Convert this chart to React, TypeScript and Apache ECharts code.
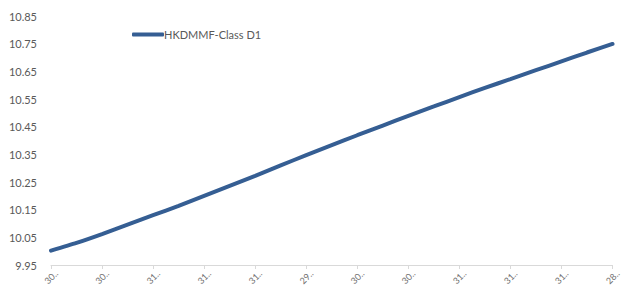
import React, { useEffect, useRef } from "react";
import * as echarts from "echarts";

const categories = [
  "30-Apr-23", "31-May-23", "30-Jun-23", "31-Jul-23", "31-Aug-23", "30-Sep-23",
  "31-Oct-23", "30-Nov-23", "31-Dec-23", "31-Jan-24", "29-Feb-24", "31-Mar-24",
  "30-Apr-24", "31-May-24", "30-Jun-24", "31-Jul-24", "31-Aug-24", "30-Sep-24",
  "31-Oct-24", "30-Nov-24", "31-Dec-24", "31-Jan-25", "28-Feb-25",
];
const seriesName = "HKDMMF-Class D1";
const values = [
  10.002, 10.03, 10.062, 10.096, 10.13, 10.164, 10.2, 10.236, 10.272, 10.31,
  10.347, 10.383, 10.419, 10.454, 10.489, 10.523, 10.557, 10.59, 10.622, 10.654,
  10.686, 10.718, 10.749,
];
const yMin = 9.95;
const yMax = 10.85;
const yInterval = 0.1;

export default function App() {
  const ref = useRef<HTMLDivElement>(null);
  useEffect(() => {
    const chart = echarts.init(ref.current!, undefined, { renderer: "svg" });
    const font = "Lato, 'Open Sans', sans-serif";
    chart.setOption({
      animation: false,
      backgroundColor: "#ffffff",
      textStyle: { fontFamily: font },
      legend: {
        left: 127,
        top: 24,
        icon: "roundRect",
        itemWidth: 32,
        itemHeight: 4,
        itemGap: 2,
        textStyle: { color: "#595959", fontSize: 11, fontFamily: font, padding: [0, 0, 0, -5] },
        data: [seriesName],
      },
      grid: { left: 51, right: 0, top: 16, bottom: 26, containLabel: false },
      xAxis: {
        type: "category",
        data: categories,
        boundaryGap: false,
        axisLine: { lineStyle: { color: "#d9d9d9", width: 1 } },
        axisTick: { show: true, interval: 1, length: 4, lineStyle: { color: "#d9d9d9" } },
        axisLabel: {
          interval: 1,
          rotate: 45,
          color: "#707070",
          fontSize: 9,
          fontFamily: font,
          width: 19,
          overflow: "truncate",
          ellipsis: "..",
          align: "center",
          verticalAlign: "middle",
          margin: 12,
        },
      },
      yAxis: {
        type: "value",
        min: yMin,
        max: yMax,
        interval: yInterval,
        axisLine: { show: false },
        axisTick: { show: false },
        splitLine: { show: false },
        axisLabel: {
          color: "#595959",
          fontSize: 11,
          fontFamily: font,
          margin: 14,
          formatter: (v: number) => v.toFixed(2),
        },
      },
      series: [
        {
          name: seriesName,
          type: "line",
          data: values,
          smooth: 0.2,
          showSymbol: false,
          lineStyle: { color: "#355E93", width: 4, cap: "round" },
          itemStyle: { color: "#355E93" },
        },
      ],
    });
    return () => chart.dispose();
  }, []);
  return (
    <div
      ref={ref}
      style={{ position: "fixed", left: 0, top: 0, width: 623, height: 291 }}
    />
  );
}
